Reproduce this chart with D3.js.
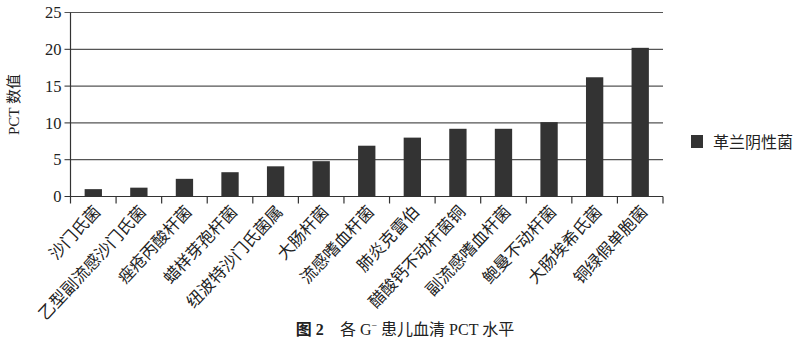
<!DOCTYPE html>
<html><head><meta charset="utf-8">
<script src="https://cdn.jsdelivr.net/npm/d3@7/dist/d3.min.js"></script>
<style>
body{margin:0;background:#fff;}
svg{display:block;}
text{font-family:"Liberation Serif","Times New Roman","Noto Sans CJK SC",serif;fill:#222;}
</style></head>
<body>
<svg id="chart" width="800" height="342"></svg>
<script>
const categories = ["沙门氏菌","乙型副流感沙门氏菌","痤疮丙酸杆菌","蜡样芽孢杆菌","纽波特沙门氏菌属","大肠杆菌","流感嗜血杆菌","肺炎克雷伯","醋酸钙不动杆菌铜","副流感嗜血杆菌","鲍曼不动杆菌","大肠埃希氏菌","铜绿假单胞菌"];
const values = [1.0, 1.2, 2.4, 3.3, 4.1, 4.8, 6.9, 8.0, 9.2, 9.2, 10.1, 16.2, 20.2];
const yTicks = [0, 5, 10, 15, 20, 25];
const seriesName = "革兰阴性菌";
const yTitle = "PCT 数值";

const svg = d3.select("#chart");
const m = {left:70.5, right:663, top:12.5, bottom:196.5};
const x = d3.scaleBand().domain(categories).range([m.left, m.right]).paddingInner(0.62).paddingOuter(0.31);
const y = d3.scaleLinear().domain([0,25]).range([m.bottom, m.top]);

// gridlines + left ticks
svg.append("g").selectAll("line").data(yTicks.filter(d=>d>0)).join("line")
  .attr("x1", m.left-6).attr("x2", m.right)
  .attr("y1", d=>y(d)).attr("y2", d=>y(d))
  .attr("stroke","#555").attr("stroke-width",1.2);

// bars
svg.append("g").selectAll("rect").data(values).join("rect")
  .attr("x",(d,i)=>x(categories[i])).attr("width",x.bandwidth())
  .attr("y",d=>y(d)).attr("height",d=>y(0)-y(d))
  .attr("fill","#333");

// axes lines
svg.append("line").attr("x1",m.left).attr("x2",m.left).attr("y1",m.top).attr("y2",m.bottom).attr("stroke","#333").attr("stroke-width",1.2);
svg.append("line").attr("x1",m.left-6).attr("x2",m.right).attr("y1",m.bottom).attr("y2",m.bottom).attr("stroke","#333").attr("stroke-width",1.2);

// x boundary ticks
const bounds = d3.range(categories.length+1).map(i=> m.left + (m.right-m.left)*i/categories.length);
svg.append("g").selectAll("line").data(bounds).join("line")
  .attr("x1",d=>d).attr("x2",d=>d).attr("y1",m.bottom).attr("y2",m.bottom+7)
  .attr("stroke","#333").attr("stroke-width",1.2);

// y tick labels
svg.append("g").selectAll("text").data(yTicks).join("text")
  .attr("x", m.left-9).attr("y", d=>y(d)).attr("dy","0.35em")
  .attr("text-anchor","end").attr("font-size",16.5).text(d=>d);

// y title
svg.append("text").attr("transform",`translate(19,${(m.top+m.bottom)/2}) rotate(-90)`)
  .attr("text-anchor","middle").attr("font-size",15).text(yTitle);

// x labels
svg.append("g").selectAll("text").data(categories).join("text")
  .attr("transform", d=>`translate(${x(d)+x.bandwidth()/2+4},${m.bottom+12}) rotate(-47)`)
  .attr("text-anchor","end").attr("dy","0.35em").attr("font-size",16.5).text(d=>d);

// legend
const lg = svg.append("g").attr("transform","translate(691,135)");
lg.append("rect").attr("width",12).attr("height",13).attr("fill","#333");
lg.append("text").attr("x",22).attr("y",7).attr("dy","0.35em").attr("font-size",16).text(seriesName);

// caption
const cap = svg.append("text").attr("x",405).attr("y",329).attr("dy","0.35em").attr("text-anchor","middle").attr("font-size",16);
cap.append("tspan").attr("font-weight","bold").text("图 2");
cap.append("tspan").attr("dx",16).text("各 G");
cap.append("tspan").attr("dy",-6).attr("font-size",10).text("−");
cap.append("tspan").attr("dy",6).text(" 患儿血清 PCT 水平");
</script>
</body></html>
